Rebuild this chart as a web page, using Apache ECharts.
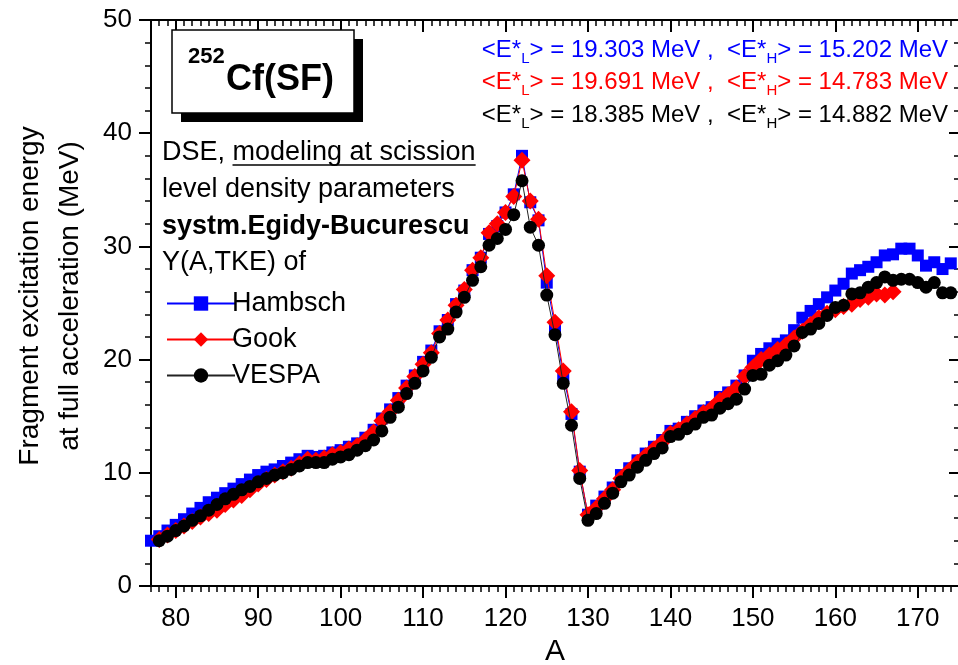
<!DOCTYPE html>
<html>
<head>
<meta charset="utf-8">
<script src="https://cdn.jsdelivr.net/npm/echarts@6/dist/echarts.min.js"></script>
<style>
  html, body { margin: 0; padding: 0; background: #fff; }
  #chart { width: 958px; height: 665px; }
</style>
</head>
<body>
<div id="chart"></div>
<script>
// Fragment excitation energy vs. mass number A for 252Cf(SF)
const A_MIN = 77;
const A_MAX = 175;

// Hambsch Y(A,TKE): first mass number and excitation energies (MeV), one per A
const hambschFirstA = 77;
const hambschE = [
  4.0, 4.4, 4.9, 5.4, 5.9, 6.4, 6.9, 7.4, 7.8, 8.2,          // 77-86
  8.6, 9.0, 9.4, 9.8, 10.1, 10.3, 10.6, 10.9, 11.2, 11.5,    // 87-96
  11.4, 11.5, 11.8, 12.0, 12.3, 12.6, 13.1, 13.8, 14.8, 15.6, // 97-106
  16.6, 17.7, 18.6, 19.8, 20.8, 22.5, 23.5, 24.9, 26.1, 27.9, // 107-116
  29.0, 31.1, 31.8, 33.0, 34.6, 38.0, 33.9, 32.3, 26.8, 22.9, // 117-126
  18.6, 15.2, 10.1, 6.3, 7.1, 7.9, 8.7, 9.8, 10.4, 11.1,     // 127-136
  11.7, 12.3, 12.9, 13.7, 13.9, 14.5, 15.0, 15.5, 15.8, 16.7, // 137-146
  17.1, 17.7, 18.6, 19.9, 20.5, 21.0, 21.4, 21.7, 22.6, 23.7, // 147-156
  24.3, 24.9, 25.5, 26.1, 26.7, 27.6, 27.9, 28.2, 28.6, 29.2, // 157-166
  29.3, 29.8, 29.8, 29.2, 28.3, 28.6, 28.0, 28.5              // 167-174
];

// Gook Y(A,TKE)
const gookFirstA = 78;
const gookE = [
  4.1, 4.5, 4.9, 5.3, 5.7, 6.1, 6.4, 6.7, 7.2,               // 78-86
  7.6, 8.0, 8.5, 9.0, 9.4, 9.8, 10.1, 10.4, 10.8, 11.2,      // 87-96
  11.1, 11.3, 11.6, 11.8, 12.1, 12.4, 12.9, 13.6, 14.6, 15.4, // 97-106
  16.4, 17.5, 18.5, 19.6, 20.6, 22.3, 23.5, 24.8, 26.2, 27.9, // 107-116
  29.0, 31.2, 32.0, 33.0, 34.4, 37.6, 34.0, 32.4, 27.4, 23.3, // 117-126
  19.0, 15.4, 10.2, 6.3, 6.9, 7.7, 8.5, 9.5, 10.2, 10.9,     // 127-136
  11.5, 12.1, 12.7, 13.5, 13.8, 14.3, 14.8, 15.3, 15.7, 16.4, // 137-146
  16.9, 17.5, 18.5, 19.3, 20.0, 20.4, 20.9, 21.3, 21.9, 22.5, // 147-156
  23.1, 23.7, 24.1, 24.4, 24.7, 24.9, 25.3, 25.5, 25.8, 25.7, // 157-166
  26.0                                                         // 167
];

// VESPA Y(A,TKE)
const vespaFirstA = 78;
const vespaE = [
  4.0, 4.4, 4.9, 5.3, 5.8, 6.2, 6.7, 7.2, 7.7,               // 78-86
  8.1, 8.5, 8.8, 9.2, 9.5, 9.8, 10.0, 10.3, 10.6, 10.9,      // 87-96
  10.9, 10.9, 11.2, 11.4, 11.6, 12.0, 12.4, 12.9, 13.7, 14.9, // 97-106
  15.8, 17.0, 17.9, 19.0, 20.2, 22.0, 22.7, 24.2, 25.5, 27.0, // 107-116
  28.2, 30.1, 30.7, 31.5, 32.8, 35.8, 31.7, 30.1, 25.7, 22.2, // 117-126
  17.9, 14.2, 9.5, 5.8, 6.4, 7.3, 8.2, 9.2, 9.8, 10.5,       // 127-136
  11.1, 11.7, 12.2, 13.2, 13.4, 13.9, 14.3, 14.9, 15.1, 15.7, // 137-146
  16.1, 16.5, 17.4, 18.6, 18.7, 19.5, 19.9, 20.4, 21.2, 22.4, // 147-156
  22.7, 23.2, 23.9, 24.6, 24.8, 25.8, 25.9, 26.4, 26.8, 27.3, // 157-166
  27.0, 27.1, 27.1, 26.8, 26.4, 26.8, 25.9, 25.9              // 167-174
];

const seriesNames = ['Hambsch', 'Gook', 'VESPA'];
const seriesColors = ['#0000ff', '#ff0000', '#000000'];
const meanLight = ['19.303', '19.691', '18.385'];
const meanHeavy = ['15.202', '14.783', '14.882'];

// Axis ticks and labels
const xMajorTicks = [80, 90, 100, 110, 120, 130, 140, 150, 160, 170];
const xMinorTicks = [];
for (let a = A_MIN; a <= A_MAX; a++) xMinorTicks.push(a);
const yMin = 0, yMax = 50, yStep = 10;

const FONT = '"Liberation Sans", Arial, Helvetica, sans-serif';

function pairs(firstA, values) {
  return values.map((v, i) => [firstA + i, v]);
}

const chart = echarts.init(document.getElementById('chart'), null, { renderer: 'canvas' });

const axisLineStyle = { color: '#000', width: 2 };
const tickLine = { color: '#000', width: 2 };
const minorLine = { color: '#000', width: 1.5 };

function xAxisDef(position, ticks, length, inside, withLine, withLabels) {
  return {
    type: 'value', position: position, min: A_MIN, max: A_MAX,
    axisLine: { show: withLine, onZero: false, lineStyle: axisLineStyle },
    axisTick: { show: true, inside: inside, length: length, customValues: ticks,
                lineStyle: length > 8 ? tickLine : minorLine },
    axisLabel: withLabels
      ? { show: true, customValues: xMajorTicks, fontSize: 26, fontFamily: FONT, color: '#000', margin: 20 }
      : { show: false },
    splitLine: { show: false },
    minorTick: { show: false }
  };
}

const xAxes = [
  Object.assign(xAxisDef('bottom', xMajorTicks, 12, false, true, true), {
    name: 'A', nameLocation: 'middle', nameGap: 50,
    nameTextStyle: { fontSize: 30, fontFamily: FONT, color: '#000' }
  }),
  xAxisDef('bottom', xMinorTicks, 6, false, false, false),
  xAxisDef('top', xMajorTicks, 12, true, true, false),
  xAxisDef('top', xMinorTicks, 6, true, false, false)
];

function yAxisDef(position, inside, withLabels, len) {
  return {
    type: 'value', position: position, min: yMin, max: yMax, interval: yStep,
    axisLine: { show: true, onZero: false, lineStyle: axisLineStyle },
    axisTick: { show: true, inside: inside, length: len, lineStyle: tickLine },
    minorTick: { show: true, splitNumber: 5, length: len / 2, lineStyle: minorLine },
    axisLabel: withLabels
      ? { show: true, fontSize: 26, fontFamily: FONT, color: '#000', margin: 19 }
      : { show: false },
    splitLine: { show: false }
  };
}

const symbols = ['rect', 'diamond', 'circle'];
const symbolSizes = [12, 17, 13];
const lineColors = ['#0000ff', '#ff0000', '#222222'];
const seriesData = [
  pairs(hambschFirstA, hambschE),
  pairs(gookFirstA, gookE),
  pairs(vespaFirstA, vespaE)
];

const series = seriesNames.map((name, i) => ({
  name: name,
  type: 'line',
  xAxisIndex: 0,
  yAxisIndex: 0,
  data: seriesData[i],
  symbol: symbols[i],
  symbolSize: symbolSizes[i],
  showSymbol: true,
  clip: false,
  z: 2 + i,
  itemStyle: { color: seriesColors[i] },
  lineStyle: { color: lineColors[i], width: 1 },
  emphasis: { disabled: true },
  animation: false
}));

// Measure text width for the underline
const measureCtx = document.createElement('canvas').getContext('2d');
function textWidth(str, size, weight) {
  measureCtx.font = (weight || 'normal') + ' ' + size + 'px ' + FONT;
  return measureCtx.measureText(str).width;
}

const noteX = 162;
const noteSize = 27;
const lineYs = [153, 189.7, 226.4, 263];
const prefixW = textWidth('DSE, ', noteSize);
const underlineW = textWidth('modeling at scission', noteSize);

// Mean excitation energy lines with subscripts
function meanRich(i) {
  return '{b|<E*}{s|L}{b|> = ' + meanLight[i] + ' MeV ,  <E*}{s|H}{b|> = ' + meanHeavy[i] + ' MeV}';
}
const meanYs = [50, 82, 115];

const graphic = [
  // label box with shadow
  { type: 'rect', shape: { x: 181, y: 39, width: 182, height: 83 }, style: { fill: '#000' }, z: 10 },
  { type: 'rect', shape: { x: 172, y: 30, width: 182, height: 83 },
    style: { fill: '#fff', stroke: '#000', lineWidth: 1.5 }, z: 11 },
  { type: 'text', x: 188, y: 57, z: 12,
    style: { text: '252', font: 'bold 22px ' + FONT, fill: '#000', verticalAlign: 'middle' } },
  { type: 'text', x: 226, y: 80, z: 12,
    style: { text: 'Cf(SF)', font: 'bold 36px ' + FONT, fill: '#000', verticalAlign: 'middle' } },

  // notes
  { type: 'text', x: noteX, y: lineYs[0], z: 12,
    style: { text: 'DSE, modeling at scission', font: noteSize + 'px ' + FONT, fill: '#000', verticalAlign: 'middle' } },
  { type: 'line', z: 12,
    shape: { x1: noteX + prefixW, y1: lineYs[0] + 12, x2: noteX + prefixW + underlineW, y2: lineYs[0] + 12 },
    style: { stroke: '#000', lineWidth: 1.5 } },
  { type: 'text', x: noteX, y: lineYs[1], z: 12,
    style: { text: 'level density parameters', font: noteSize + 'px ' + FONT, fill: '#000', verticalAlign: 'middle' } },
  { type: 'text', x: noteX, y: lineYs[2], z: 12,
    style: { text: 'systm.Egidy-Bucurescu', font: 'bold ' + noteSize + 'px ' + FONT, fill: '#000', verticalAlign: 'middle' } },
  { type: 'text', x: noteX, y: lineYs[3], z: 12,
    style: { text: 'Y(A,TKE) of', font: noteSize + 'px ' + FONT, fill: '#000', verticalAlign: 'middle' } },

  // y-axis title
  { type: 'text', x: 50, y: 296, rotation: Math.PI / 2, z: 12,
    style: { text: 'Fragment excitation energy\nat full acceleration (MeV)', font: '28px ' + FONT,
             fill: '#000', align: 'center', verticalAlign: 'middle', lineHeight: 40 } }
].concat(meanYs.map((y, i) => ({
  type: 'text', x: 948, y: y, z: 12,
  style: {
    text: meanRich(i), align: 'right', verticalAlign: 'middle',
    rich: {
      b: { fontSize: 24, fontFamily: FONT, fill: seriesColors[i], lineHeight: 32 },
      s: { fontSize: 15, fontFamily: FONT, fill: seriesColors[i], lineHeight: 15, verticalAlign: 'bottom' }
    }
  }
})));

chart.setOption({
  animation: false,
  backgroundColor: '#fff',
  grid: { left: 151, right: -1, top: 20, bottom: 79, outerBoundsMode: 'none', containLabel: false },
  xAxis: xAxes,
  yAxis: [yAxisDef('left', false, true, 12), yAxisDef('right', true, false, 10)],
  legend: {
    data: seriesNames,
    orient: 'vertical',
    left: 161,
    top: 285,
    itemWidth: 68,
    itemHeight: 18,
    itemGap: 9,
    selectedMode: false,
    textStyle: { fontSize: noteSize, fontFamily: FONT, color: '#000', padding: [0, 0, 0, -8] }
  },
  tooltip: { show: false },
  series: series,
  graphic: graphic
});
</script>
</body>
</html>
